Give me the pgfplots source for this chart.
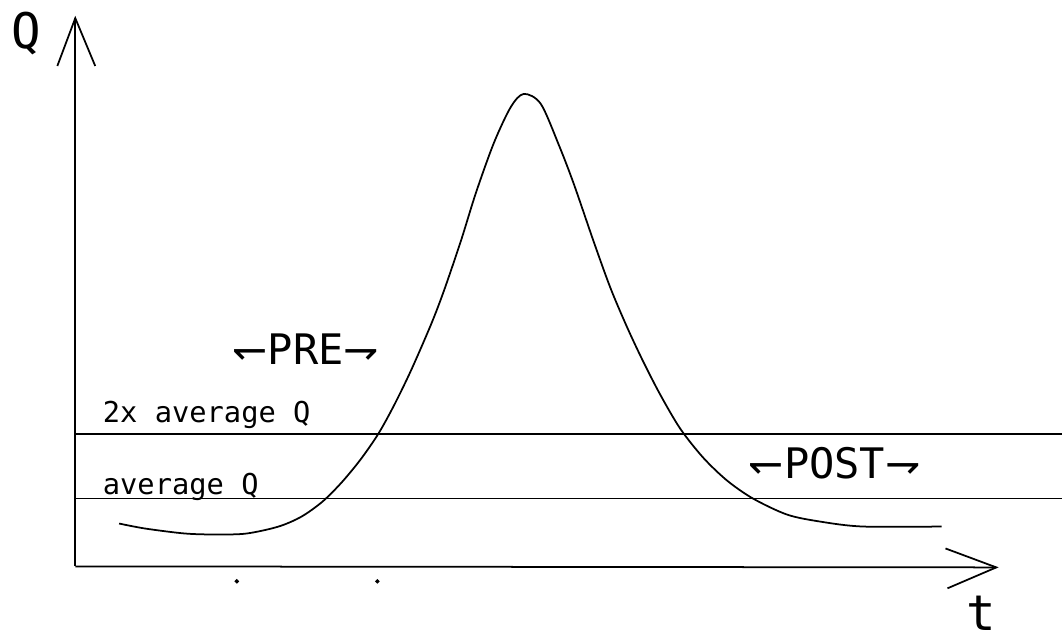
\documentclass[border=0pt]{standalone}
\usepackage{pgfplots}
\pgfplotsset{compat=1.18}
\usepackage{fontspec}
\setmainfont{DejaVu Sans Mono}
\newfontfamily\arr{DejaVu Sans}
\begin{document}
\begin{tikzpicture}
\begin{axis}[
  scale only axis, width=10.63cm, height=6.28cm,
  xmin=0, xmax=1063, ymin=0, ymax=628,
  hide axis, clip=false,
]
\path[draw=none] (axis cs:0,0) rectangle (axis cs:1063,628);
% axes
\addplot[black, line width=0.5pt] coordinates {(73,63) (73,613)};
\addplot[black, line width=0.5pt] coordinates {(55,565) (73,613) (93,565)};
\addplot[black, line width=0.5pt] coordinates {(73,63) (997,62)};
\addplot[black, line width=0.5pt] coordinates {(946,81) (997,62) (948,41)};
% reference lines
\addplot[black, line width=0.5pt] coordinates {(73,196) (1063,196)};
\addplot[black, line width=0.5pt] coordinates {(73,131) (1063,131)};
% hydrograph
\addplot[black, line width=0.5pt, smooth] coordinates {
(117,106) (143,101) (183,96) (215,95) (245,96) (277,103) (300,113)
(321,128) (340,147) (359,170) (377,196) (393,225) (410,260) (430,306)
(443,340) (460,390) (475,438) (493,488) (510,524) (523,537) (540,527)
(558,486) (573,447) (593,389) (610,342) (627,302) (643,268) (660,235)
(680,201) (703,172) (727,149) (753,131) (787,115) (820,108) (863,103) (942,103)};
% dots
\addplot[only marks, mark=*, mark size=0.4pt, black] coordinates {(235,48) (376,48)};
% labels
\node[font=\fontsize{14}{16}\selectfont] at (axis cs:24,598) {Q};
\node[font=\fontsize{14}{16}\selectfont] at (axis cs:982,16) {t};
\node[anchor=base west, inner sep=0pt, font=\fontsize{8.2}{10}\selectfont] at (axis cs:100,207) {2x average Q};
\node[anchor=base west, inner sep=0pt, font=\fontsize{8.2}{10}\selectfont] at (axis cs:100,135) {average Q};
\node[anchor=base west, inner sep=0pt, font=\fontsize{12}{14}\selectfont] at (axis cs:230,266) {{\arr ↽}PRE{\arr ⇁}};
\node[anchor=base west, inner sep=0pt, font=\fontsize{12}{14}\selectfont] at (axis cs:748,151) {{\arr ↽}POST{\arr ⇁}};
\end{axis}
\end{tikzpicture}
\end{document}
